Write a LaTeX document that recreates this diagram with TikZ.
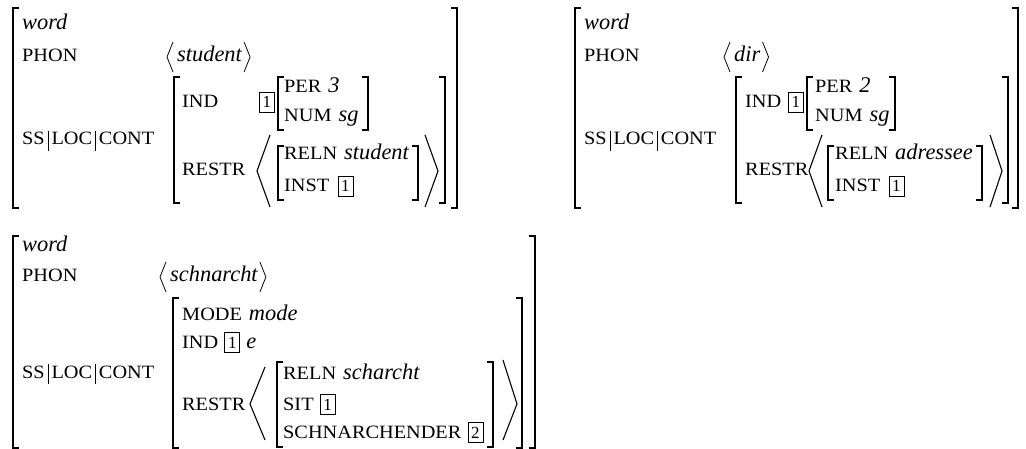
\documentclass[tikz,border=0pt]{standalone}
\usepackage{fontspec}
\setmainfont{Liberation Serif}
\newfontfamily\scfam[FakeStretch=1.08]{Liberation Serif}
\usetikzlibrary{calc}
\newcommand\scf{\scfam\fontsize{18.8}{22}\selectfont}
\newcommand\itf{\rmfamily\fontsize{22.4}{26}\selectfont\itshape}
\newcommand\tgf{\rmfamily\fontsize{17}{20}\selectfont}
\newcommand\barsep{\kern3pt\rule[-6pt]{0.8pt}{20pt}\kern3pt}
\newcommand\lbr[3]{\draw[br] (#1+6,#2) -| (#1,#3) -- (#1+6,#3);}
\newcommand\rbr[3]{\draw[br] (#1-6,#2) -| (#1,#3) -- (#1-6,#3);}
\newcommand\phonangles[1]{%
  \draw[sang] ($(#1.base west)+(-4,-20)$) -- ($(#1.base west)+(-10,-5)$) -- ($(#1.base west)+(-4,10)$);
  \draw[sang] ($(#1.base east)+(2,-20)$) -- ($(#1.base east)+(8,-5)$) -- ($(#1.base east)+(2,10)$);}
\tikzset{
  br/.style={line width=1.3pt, line cap=butt, line join=miter},
  ang/.style={line width=1.1pt, line join=miter},
  sang/.style={line width=0.8pt, line join=miter},
  att/.style={anchor=base west, inner sep=0pt, font=\scf},
  val/.style={anchor=base west, inner sep=0pt, font=\itf},
  tag/.style={draw, line width=0.7pt, inner sep=0pt, minimum width=15pt, minimum height=20pt,
     text height=12pt, text depth=1pt, font=\tgf, anchor=base west},
}
\begin{document}
\begin{tikzpicture}[x=1pt,y=-1pt]
\useasboundingbox (0,0) rectangle (1026,449);
% ================= AVM 1 =================
\lbr{13}{8}{208}
\rbr{457}{8}{208}
\node[val] (w1) at (22,30) {word};
\node[att] (p1) at (22,62) {PHON};
\node[val] (ph1) at (177,62) {student};
\phonangles{ph1}
\node[att] (s1) at (22,145) {SS\barsep LOC\barsep CONT};
\lbr{174}{77}{203}
\rbr{445}{77}{203}
\node[att] (i1) at (182,108) {IND};
\node[tag] (t1a) at (259,108) {1};
\lbr{278}{77}{130}
\rbr{368}{77}{130}
\node[att] (per1) at (284,93) {PER\hspace{7pt}{\itf 3}};
\node[att] (num1) at (284,122) {NUM\hspace{7pt}{\itf sg}};
\node[att] (r1) at (182,176) {RESTR};
\draw[ang] (270,135) -- (257,171) -- (270,207);
\lbr{278}{146}{200}
\rbr{418}{146}{200}
\node[att] (rl1) at (284,160) {RELN\hspace{7pt}{\itf student}};
\node[att] (in1) at (284,192) {INST};
\node[tag] (t1b) at ([xshift=8pt]in1.base east) {1};
\draw[ang] (425,135) -- (438,171) -- (425,207);
% ================= AVM 2 =================
\lbr{575}{8}{208}
\rbr{1018}{8}{208}
\node[val] (w2) at (584,30) {word};
\node[att] (p2) at (584,62) {PHON};
\node[val] (ph2) at (734,62) {dir};
\phonangles{ph2}
\node[att] (s2) at (584,145) {SS\barsep LOC\barsep CONT};
\lbr{736}{77}{203}
\rbr{1008}{77}{203}
\node[att] (i2) at (745,108) {IND};
\node[tag] (t2a) at (788,108) {1};
\lbr{807}{77}{130}
\rbr{895}{77}{130}
\node[att] (per2) at (815,93) {PER\hspace{7pt}{\itf 2}};
\node[att] (num2) at (815,122) {NUM\hspace{7pt}{\itf sg}};
\node[att] (r2) at (745,176) {RESTR};
\draw[ang] (822,135) -- (809,171) -- (822,207);
\lbr{828}{146}{200}
\rbr{982}{146}{200}
\node[att] (rl2) at (835,160) {RELN\hspace{7pt}{\itf adressee}};
\node[att] (in2) at (835,192) {INST};
\node[tag] (t2b) at ([xshift=8pt]in2.base east) {1};
\draw[ang] (990,135) -- (1002,171) -- (990,207);
% ================= AVM 3 =================
\lbr{13}{236}{448}
\rbr{535}{236}{448}
\node[val] (w3) at (22,252) {word};
\node[att] (p3) at (22,282) {PHON};
\node[val] (ph3) at (170,282) {schnarcht};
\phonangles{ph3}
\node[att] (s3) at (22,378) {SS\barsep LOC\barsep CONT};
\lbr{173}{298}{448}
\rbr{522}{298}{448}
\node[att] (m3) at (182,320) {MODE\hspace{7pt}{\itf mode}};
\node[att] (i3) at (182,348) {IND};
\node[tag] (t3a) at ([xshift=6pt]i3.base east) {1};
\node[val] (e3) at ([xshift=6pt]t3a.east |- i3.base) {e};
\node[att] (r3) at (182,410) {RESTR};
\draw[ang] (265,367) -- (250,404) -- (265,440);
\lbr{277}{362}{447}
\rbr{493}{362}{447}
\node[att] (rl3) at (283,379) {RELN\hspace{7pt}{\itf scharcht}};
\node[att] (si3) at (283,410) {SIT};
\node[tag] (t3b) at ([xshift=6pt]si3.base east) {1};
\node[att] (sc3) at (283,438) {SCHNARCHENDER};
\node[tag] (t3c) at ([xshift=6pt]sc3.base east) {2};
\draw[ang] (503,360) -- (517,404) -- (503,440);
\end{tikzpicture}
\end{document}
